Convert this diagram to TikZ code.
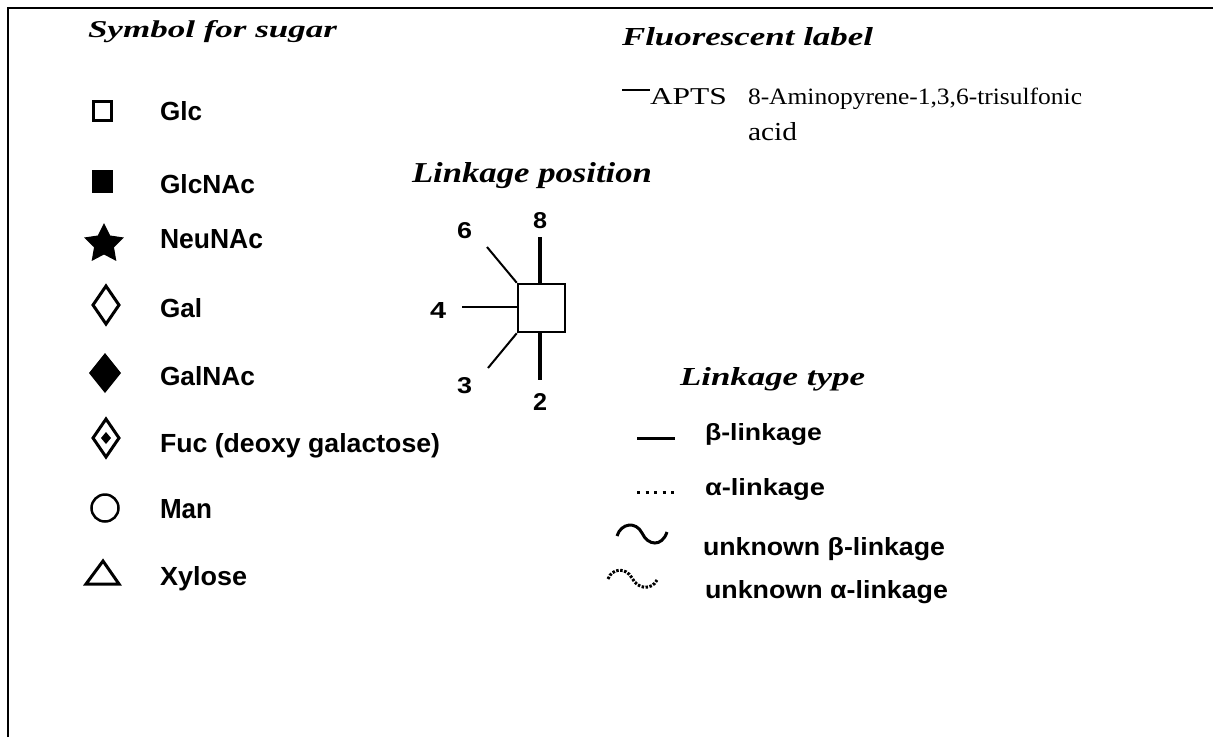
\documentclass[tikz,border=0pt]{standalone}
\usepackage{fontspec}
\setmainfont{Liberation Serif}
\newfontfamily\lsans{Liberation Sans}
\usetikzlibrary{shapes.geometric}
\newcommand{\fitt}[3]{\resizebox{#1pt}{#2pt}{#3}}
\newcommand{\ttlf}{\bfseries\itshape}
\newcommand{\sgf}{\lsans\bfseries}
\begin{document}
\begin{tikzpicture}[x=1pt,y=-1pt,
  txt/.style={anchor=base west,inner sep=0pt,outer sep=0pt},
  sym/.style={line width=3pt,line join=miter},
  thinlink/.style={line width=2pt},
  thicklink/.style={line width=4pt}]
\useasboundingbox (0,0) rectangle (1213,737);
% frame
\draw[line width=2pt] (8,737) -- (8,8) -- (1213,8);

% titles
\node[txt] (tsym) at (88,37) {\fitt{249}{17}{\ttlf Symbol for sugar}};
\node[txt] (tfluo) at (622,45) {\fitt{251}{18}{\ttlf Fluorescent label}};
\node[txt] (tpos) at (412,182) {\fitt{240}{20}{\ttlf Linkage position}};
\node[txt] (ttype) at (680,385) {\fitt{185}{18}{\ttlf Linkage type}};

% fluorescent label
\node[txt] (apts) at (650,104) {\fitt{77}{16}{APTS}};
\coordinate (dashL) at (622,90);
\draw[line width=1.3pt] (dashL) -- (apts.west |- dashL);
\node[txt] (aptsname) at (748,104) {\fitt{334}{16.5}{8-Aminopyrene-1,3,6-trisulfonic}};
\node[txt] (acid) at (748,140) {\fitt{49}{18}{acid}};

% sugar symbols
\draw[sym] (93.5,101.5) rectangle (111.5,120.5);
\fill (92,170) rectangle (113,193);
\node[star,star points=5,star point ratio=2.0,fill,minimum size=42pt,inner sep=0pt] (starsym) at (104,244) {};
\draw[sym] (106,286) -- (119,305) -- (106,324) -- (93,305) -- cycle;
\fill (105,353) -- (121,373) -- (105,393) -- (89,373) -- cycle;
\draw[sym] (106,419) -- (119,438) -- (106,457) -- (93,438) -- cycle;
\fill (106,432) -- (111,438) -- (106,444) -- (101,438) -- cycle;
\draw[line width=2.5pt] (105,508) circle (13.5);
\draw[sym] (103,561) -- (119,584) -- (86,584) -- cycle;

% sugar names
\node[txt] (glc) at (160,120) {\fitt{42}{19}{\sgf Glc}};
\node[txt] (glcnac) at (160,193) {\fitt{95}{19}{\sgf GlcNAc}};
\node[txt] (neunac) at (160,248) {\fitt{103}{19}{\sgf NeuNAc}};
\node[txt] (gal) at (160,317) {\fitt{42}{19}{\sgf Gal}};
\node[txt] (galnac) at (160,385) {\fitt{95}{19}{\sgf GalNAc}};
\node[txt] (fuc) at (160,452) {\fitt{280}{19}{\sgf Fuc (deoxy galactose)}};
\node[txt] (man) at (160,518) {\fitt{52}{19}{\sgf Man}};
\node[txt] (xyl) at (160,585) {\fitt{87}{19}{\sgf Xylose}};

% linkage position
\node[draw,line width=2.5pt,minimum width=47pt,minimum height=48pt,inner sep=0pt] (res) at (541.5,308) {};
\node[txt] (n8) at (533,228) {\fitt{14}{16}{\sgf 8}};
\node[txt] (n6) at (457,238) {\fitt{15}{16}{\sgf 6}};
\node[txt] (n4) at (430,318) {\fitt{16}{16}{\sgf 4}};
\node[txt] (n3) at (457,393) {\fitt{15}{16}{\sgf 3}};
\node[txt] (n2) at (533,410) {\fitt{14}{17}{\sgf 2}};
\coordinate (e8) at (540,237);
\coordinate (e2) at (540,380);
\coordinate (e4) at (462,307);
\coordinate (e6) at (487,247);
\coordinate (e3) at (488,368);
\draw[thicklink] (res.north -| e8) -- (e8);
\draw[thicklink] (res.south -| e2) -- (e2);
\draw[thinlink] (res.west |- e4) -- (e4);
\draw[thinlink] (res.north west) -- (e6);
\draw[thinlink] (res.south west) -- (e3);

% linkage type
\coordinate (bl1) at (637,438); \coordinate (bl2) at (675,438);
\draw[line width=3pt] (bl1) -- (bl2);
\node[txt] (beta) at (705,440) {\fitt{117}{17}{\sgf β-linkage}};
\coordinate (al1) at (637,492); \coordinate (al2) at (674,492);
\draw[line width=3pt,dash pattern=on 3pt off 5.5pt] (al1) -- (al2);
\node[txt] (alpha) at (705,495) {\fitt{120}{17}{\sgf α-linkage}};
\draw[line width=3pt] (617,536) .. controls (621,523) and (636,521) .. (642,533)
  .. controls (648,546) and (662,547) .. (667,532);
\node[txt] (ubeta) at (703,555) {\fitt{242}{18}{\sgf unknown β-linkage}};
\draw[line width=3pt,dash pattern=on 2.5pt off 1.5pt] (608,579) .. controls (612,568) and (626,567) .. (632,578)
  .. controls (638,590) and (652,590) .. (657,580);
\node[txt] (ualpha) at (705,598) {\fitt{243}{18}{\sgf unknown α-linkage}};
\end{tikzpicture}
\end{document}
